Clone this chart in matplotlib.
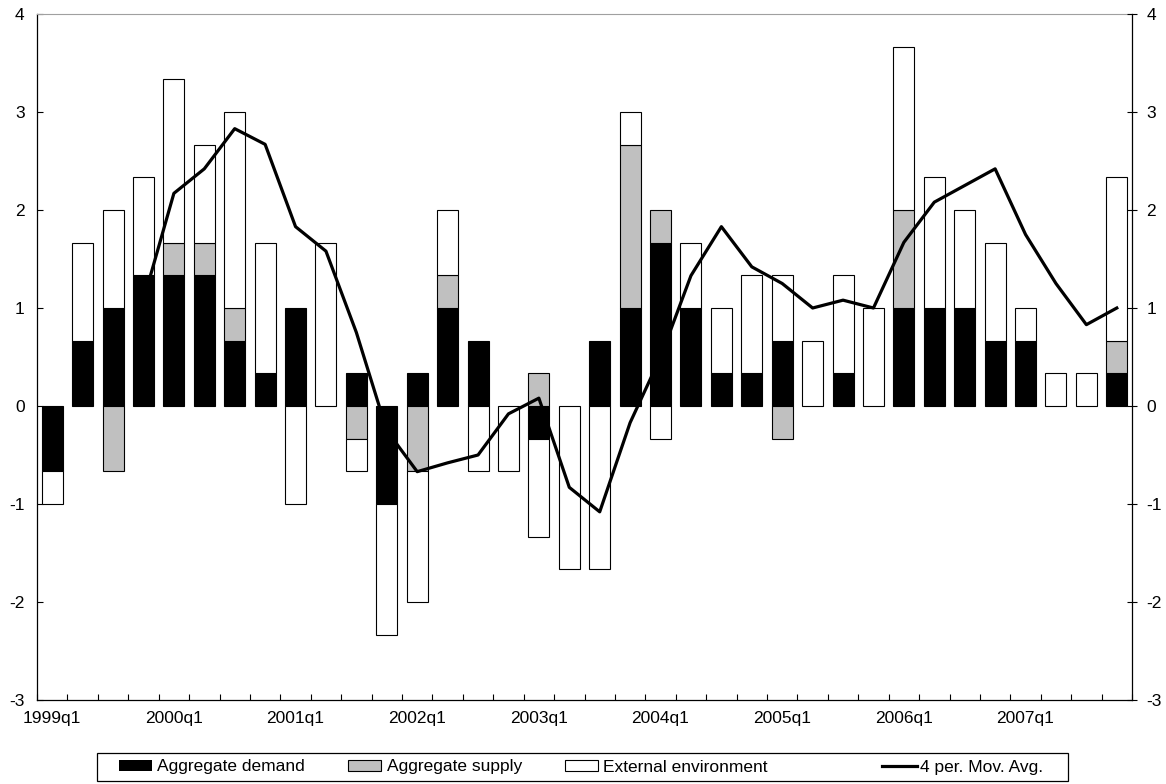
import numpy as np
import matplotlib
matplotlib.use("Agg")
import matplotlib.pyplot as plt
from matplotlib.patches import Patch, Rectangle
from matplotlib.lines import Line2D

plt.rcParams['font.family'] = ['Liberation Sans', 'DejaVu Sans']
plt.rcParams['font.size'] = 12.5
plt.rcParams['axes.unicode_minus'] = False

# quarters 1999q1 .. 2007q4
quarters = [f"{y}q{q}" for y in range(1999, 2008) for q in range(1, 5)]

# contributions (percentage points)
demand = [-2/3, 2/3, 1, 4/3, 4/3, 4/3, 2/3, 1/3, 1, 0, 1/3, -1,
          1/3, 1, 2/3, 0, -1/3, 0, 2/3, 1, 5/3, 1, 1/3, 1/3,
          2/3, 0, 1/3, 0, 1, 1, 1, 2/3, 2/3, 0, 0, 1/3]
supply = [0, 0, -2/3, 0, 1/3, 1/3, 1/3, 0, 0, 0, -1/3, 0,
          -2/3, 1/3, 0, 0, 1/3, 0, 0, 5/3, 1/3, 0, 0, 0,
          -1/3, 0, 0, 0, 1, 0, 0, 0, 0, 0, 0, 1/3]
external = [-1/3, 1, 1, 1, 5/3, 1, 2, 4/3, -1, 5/3, -1/3, -4/3,
            -4/3, 2/3, -2/3, -2/3, -1, -5/3, -5/3, 1/3, -1/3, 2/3, 2/3, 1,
            2/3, 2/3, 1, 1, 5/3, 4/3, 1, 1, 1/3, 1/3, 1/3, 5/3]
# 4 period moving average
mov_avg = [np.nan, np.nan, np.nan, 1.08, 2.17, 2.42, 2.83, 2.67, 1.83, 1.58, 0.75, -0.25,
           -0.67, -0.58, -0.50, -0.08, 0.08, -0.83, -1.08, -0.17, 0.50, 1.33, 1.83, 1.42,
           1.25, 1.00, 1.08, 1.00, 1.67, 2.08, 2.25, 2.42, 1.75, 1.25, 0.83, 1.00]

series = [("Aggregate demand", demand, "black"),
          ("Aggregate supply", supply, "#c0c0c0"),
          ("External environment", external, "white")]

W, H = 1166, 784
fig = plt.figure(figsize=(W / 100, H / 100), dpi=100)
ax = fig.add_axes([37 / W, 1 - 700 / H, (1132 - 37) / W, (700 - 14) / H])

x = np.arange(len(quarters))
pos_base = np.zeros(len(x))
neg_base = np.zeros(len(x))
for name, vals, col in series:
    v = np.array(vals)
    bottom = np.where(v >= 0, pos_base, neg_base)
    lw = [0.8 if val != 0 else 0 for val in v]
    ax.bar(x, v, bottom=bottom, width=0.69, color=col, edgecolor="black",
           linewidth=lw, zorder=2)
    pos_base = pos_base + np.where(v > 0, v, 0)
    neg_base = neg_base + np.where(v < 0, v, 0)

ax.plot(x, mov_avg, color="black", linewidth=2.3, zorder=5)

ax.set_xlim(-0.5, len(x) - 0.5)
ax.set_ylim(-3, 4)
ax.set_yticks(range(-3, 5))
ax.tick_params(axis="y", direction="in", length=4, pad=9, width=0.8)

ax.set_xticks(x[::4])
ax.set_xticklabels(quarters[::4])
ax.set_xticks(np.arange(-0.5, len(x) + 0.5, 1), minor=True)
ax.tick_params(axis="x", which="major", length=0, pad=8)
ax.tick_params(axis="x", which="minor", direction="in", length=4, width=0.8)

ax.spines["right"].set_visible(False)
ax.spines["top"].set_color("#a0a0a0")
ax.spines["left"].set_linewidth(0.9)
ax.spines["bottom"].set_linewidth(0.9)

ax2 = ax.twinx()
ax2.set_ylim(-3, 4)
ax2.set_yticks(range(-3, 5))
ax2.tick_params(axis="y", direction="inout", length=7, pad=7, width=0.8)
for s in ["top", "left", "bottom"]:
    ax2.spines[s].set_visible(False)
ax2.spines["right"].set_linewidth(0.9)

# legend box
fig.add_artist(Rectangle((97 / W, 1 - 781 / H), (1068 - 97) / W, 28 / H,
                         transform=fig.transFigure, fill=False,
                         edgecolor="black", linewidth=0.9))
handles = [Patch(facecolor=c, edgecolor="black" if c != "black" else "none", linewidth=0.8)
           for _, _, c in series]
fig.legend(handles, [n for n, _, _ in series], loc="center left",
           bbox_to_anchor=(119 / W, 1 - 767 / H), ncol=3, frameon=False,
           borderaxespad=0, borderpad=0, handlelength=1.9, handleheight=0.6,
           handletextpad=0.3, columnspacing=2.5, fontsize=12.5)
fig.legend([Line2D([], [], color="black", linewidth=2.3)], ["4 per. Mov. Avg."],
           loc="center left", bbox_to_anchor=(882 / W, 1 - 767 / H), frameon=False,
           borderaxespad=0, borderpad=0, handlelength=2.0, handletextpad=0.2,
           fontsize=12.5)

fig.savefig("out.png", dpi=100)
